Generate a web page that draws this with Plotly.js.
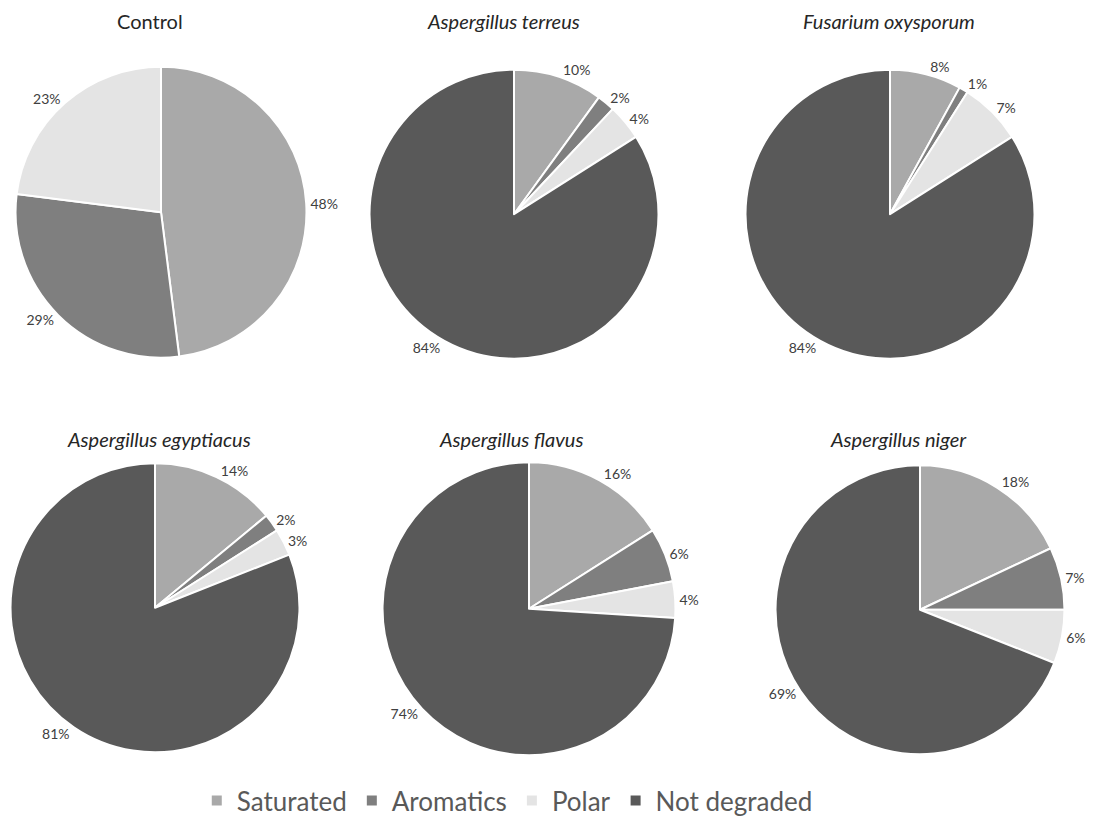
<!DOCTYPE html>
<html><head><meta charset="utf-8">
<script src="https://cdn.plot.ly/plotly-3.0.1.min.js"></script>
<style>body{margin:0;background:#fff}#c{width:1098px;height:824px}</style>
</head><body><div id="c"></div>
<script>
const categories = ["Saturated", "Aromatics", "Polar", "Not degraded"];
const panelTitles = ["Control", "<i>Aspergillus terreus</i>", "<i>Fusarium oxysporum</i>",
  "<i>Aspergillus egyptiacus</i>", "<i>Aspergillus flavus</i>", "<i>Aspergillus niger</i>"];
const control = [48, 29, 23, 0];
const aTerreus = [10, 2, 4, 84];
const fOxysporum = [8, 1, 7, 84];
const aEgyptiacus = [14, 2, 3, 81];
const aFlavus = [16, 6, 4, 74];
const aNiger = [18, 7, 6, 69];
const seriesList = [control, aTerreus, fOxysporum, aEgyptiacus, aFlavus, aNiger];

const colors = ["#a6a6a6", "#7f7f7f", "#e4e4e4", "#595959"];
const W = 1098, H = 824;
// pie boxes in pixels: [cx, cy, r]
const boxes = [[161,213,146],[514,215,145],[890,215,145],[155,610,145],[529,611,147],[920,612,145]];
const titlePos = [[150,21],[503,21],[889,21],[159,441],[511,441],[899,441]];
const FONT = "Lato, 'Open Sans', sans-serif";

const traces = seriesList.map((vals, i) => {
  const [cx, cy, r] = boxes[i];
  return {
    type: "pie",
    labels: categories,
    values: vals,
    sort: false,
    direction: "clockwise",
    rotation: 0,
    text: vals.map(v => v > 0 ? v + "%" : ""),
    textinfo: "text",
    textposition: "outside",
    outsidetextfont: {family: FONT, size: 14, color: "#404040"},
    hoverinfo: "label+text",
    marker: {
      colors: colors,
      line: {color: "#ffffff", width: 2},
      pattern: {shape: [".", "", "", ""], fgcolor: "#858585", bgcolor: "#c6c6c6", size: 2, solidity: 0.5, fillmode: "replace"}
    },
    domain: {x: [(cx - r) / W, (cx + r) / W], y: [1 - (cy + r) / H, 1 - (cy - r) / H]},
    showlegend: i === 4
  };
});

const annotations = panelTitles.map((t, i) => ({
  text: t, x: titlePos[i][0] / W, y: 1 - titlePos[i][1] / H, xref: "paper", yref: "paper",
  xanchor: "center", yanchor: "middle", showarrow: false,
  font: {family: FONT, size: 20, color: "#262626"}
}));

const layout = {
  width: W, height: H,
  margin: {l: 0, r: 0, t: 0, b: 0},
  paper_bgcolor: "#ffffff",
  annotations: annotations,
  legend: {orientation: "h", x: 0.462, xanchor: "center", y: 0.025, yanchor: "middle",
    font: {family: FONT, size: 26, color: "#595959"}, itemwidth: 30, traceorder: "normal"},
  showlegend: true
};
Plotly.newPlot("c", traces, layout, {displayModeBar: false, staticPlot: true});
</script></body></html>
